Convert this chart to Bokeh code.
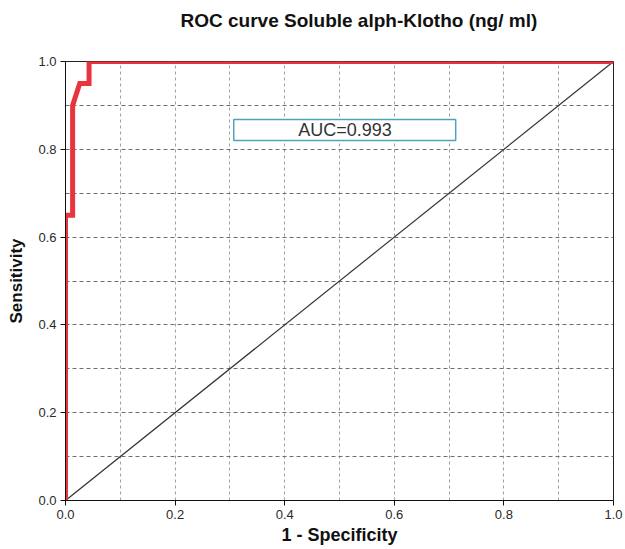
from bokeh.plotting import figure
from bokeh.models import Range1d, FixedTicker, BoxAnnotation, Label, Title
from bokeh.embed import file_html
from bokeh.resources import INLINE

# ROC data (1 - specificity, sensitivity)
fpr = [0.0, 0.0, 0.013, 0.013, 0.026, 0.043, 0.043, 1.0]
tpr = [0.0, 0.65, 0.65, 0.90, 0.95, 0.95, 1.0, 1.0]
ref_x = [0.0, 1.0]
ref_y = [0.0, 1.0]
auc_text = "AUC=0.993"
x_ticks = [0.0, 0.2, 0.4, 0.6, 0.8, 1.0]
y_ticks = [0.0, 0.2, 0.4, 0.6, 0.8, 1.0]
grid_ticks = [0.1, 0.2, 0.3, 0.4, 0.5, 0.6, 0.7, 0.8, 0.9]

FONT = "Liberation Sans"

p = figure(width=625, height=549, output_backend="svg", toolbar_location=None,
           title=None,
           x_range=Range1d(0, 1), y_range=Range1d(0, 1),
           min_border_left=65, min_border_right=12, min_border_top=61, min_border_bottom=49)

# spacer title (closest to frame) then main title
p.add_layout(Title(text=" ", text_font_size="12px"), "above")
p.add_layout(Title(text="ROC curve Soluble alph-Klotho (ng/ ml)", align="left", offset=115,
                   text_font=FONT, text_font_size="19px", text_font_style="bold",
                   text_color="#111111"), "above")

p.outline_line_color = "#222222"
p.outline_line_width = 1
p.background_fill_color = "white"
p.border_fill_color = "white"

# grids
p.xgrid.ticker = FixedTicker(ticks=grid_ticks)
p.ygrid.ticker = FixedTicker(ticks=grid_ticks)
p.xgrid.grid_line_color = "#a0a0a0"
p.xgrid.grid_line_dash = "3 3"
p.xgrid.grid_line_width = 1
p.ygrid.grid_line_color = "#6e6e6e"
p.ygrid.grid_line_dash = "4 3"
p.ygrid.grid_line_width = 1

# axes
for ax in (p.xaxis[0], p.yaxis[0]):
    ax.axis_line_color = "#111111"
    ax.major_tick_line_color = "#111111"
    ax.major_tick_out = 5
    ax.major_tick_in = 0
    ax.minor_tick_line_color = None
    ax.major_label_text_font = FONT
    ax.major_label_text_font_size = "13px"
    ax.major_label_text_color = "#2a2a2a"
    ax.axis_label_text_font = FONT
    ax.axis_label_text_font_style = "bold"
    ax.axis_label_text_color = "#111111"

p.xaxis[0].ticker = FixedTicker(ticks=x_ticks)
p.yaxis[0].ticker = FixedTicker(ticks=y_ticks)
p.xaxis[0].major_label_overrides = {t: f"{t:.1f}" for t in x_ticks}
p.yaxis[0].major_label_overrides = {t: f"{t:.1f}" for t in y_ticks}
p.xaxis[0].axis_label = "1 - Specificity"
p.yaxis[0].axis_label = "Sensitivity"
p.xaxis[0].axis_label_text_font_size = "18px"
p.yaxis[0].axis_label_text_font_size = "17px"
p.xaxis[0].major_label_standoff = 4
p.yaxis[0].major_label_standoff = 4
p.xaxis[0].axis_label_standoff = 3
p.yaxis[0].axis_label_standoff = 9

# reference diagonal
p.line(ref_x, ref_y, line_color="#333333", line_width=1.2)
# ROC curve
p.line(fpr, tpr, line_color="#e8343c", line_width=5, line_join="miter")

# AUC box
box = BoxAnnotation(left=0.307, right=0.712, bottom=0.82, top=0.868,
                    fill_color="white", fill_alpha=1.0,
                    line_color="#4fa3bd", line_alpha=1.0, line_width=1.5)
p.add_layout(box)
p.add_layout(Label(x=0.51, y=0.843, text=auc_text, text_align="center",
                   text_baseline="middle", text_font=FONT,
                   text_font_size="18px", text_color="#333333"))

open("out.html", "w").write(file_html(p, INLINE))
